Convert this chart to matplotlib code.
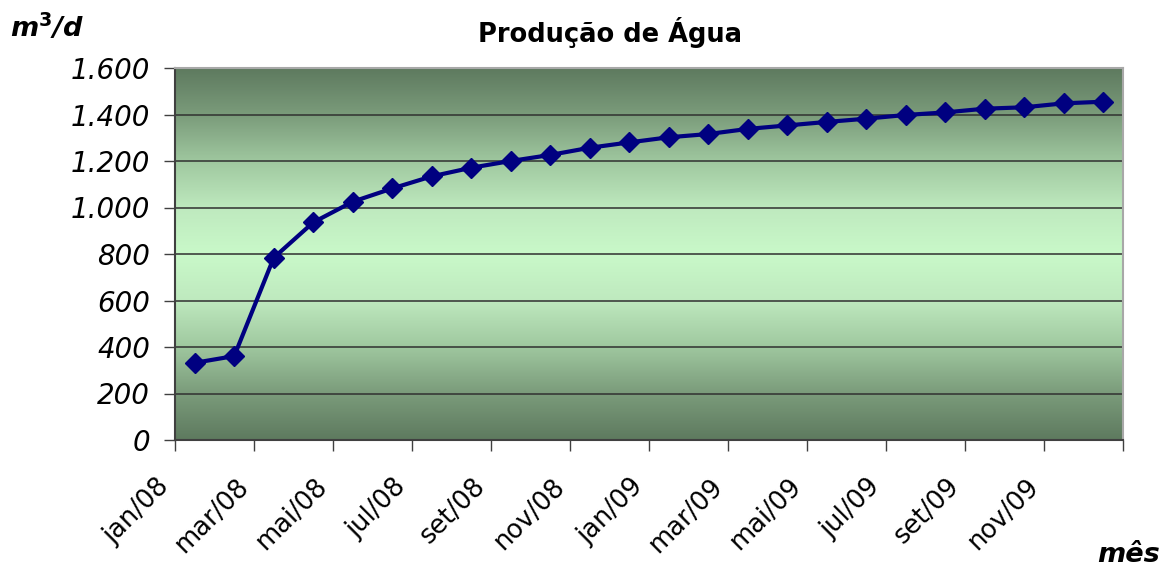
import numpy as np
import matplotlib
matplotlib.use("Agg")
import matplotlib.pyplot as plt
from matplotlib.colors import LinearSegmentedColormap

plt.rcParams['font.family'] = ['DejaVu Sans']

months = ["jan/08", "fev/08", "mar/08", "abr/08", "mai/08", "jun/08",
          "jul/08", "ago/08", "set/08", "out/08", "nov/08", "dez/08",
          "jan/09", "fev/09", "mar/09", "abr/09", "mai/09", "jun/09",
          "jul/09", "ago/09", "set/09", "out/09", "nov/09", "dez/09"]
values = [332, 361, 784, 936, 1025, 1082, 1134, 1171, 1200, 1226, 1257, 1280,
          1302, 1316, 1338, 1353, 1368, 1382, 1398, 1409, 1425, 1431, 1448, 1455]
ytick_vals = [0, 200, 400, 600, 800, 1000, 1200, 1400, 1600]
ytick_labels = ["0", "200", "400", "600", "800", "1.000", "1.200", "1.400", "1.600"]
title = "Produção de Água"

W, H = 1170, 571
fig = plt.figure(figsize=(W / 100, H / 100), dpi=100)
ax = fig.add_axes([175 / W, 1 - 440 / H, (1123 - 175) / W, (440 - 68) / H])

# gradient background (dark edges, light centre)
cmap = LinearSegmentedColormap.from_list(
    "g", [(0.0, "#5e7a5f"), (0.13, "#7c9d7c"), (0.26, "#a2cba2"),
          (0.38, "#bfeabf"), (0.5, "#c9f9c9"), (0.62, "#bfeabf"),
          (0.74, "#a2cba2"), (0.87, "#7c9d7c"), (1.0, "#5e7a5f")])
grad = np.linspace(0, 1, 256).reshape(-1, 1)
ax.imshow(grad, cmap=cmap, aspect='auto', extent=[0, 1, 0, 1],
          transform=ax.transAxes, zorder=0)

x = np.arange(len(values))
ax.plot(x, values, color="#000080", lw=3, marker='D', markersize=10.5,
        markerfacecolor="#000080", markeredgecolor="#000080", zorder=3,
        clip_on=False)

ax.set_xlim(-0.5, len(values) - 0.5)
ax.set_ylim(0, 1600)

ax.set_yticks(ytick_vals)
ax.set_yticklabels(ytick_labels, fontsize=20, style='italic')
for v in ytick_vals[1:-1]:
    ax.axhline(v, color="#303030", lw=1.1, zorder=1)

xt = np.arange(-0.5, len(values), 2)
ax.set_xticks(xt)
labels = [months[int(t + 0.5)] if int(t + 0.5) < len(months) else "" for t in xt]
ax.set_xticklabels(labels, rotation=45, ha='right', fontsize=18.5)

ax.tick_params(axis='y', direction='out', length=8, width=1, pad=10, color="#404040")
ax.tick_params(axis='x', direction='out', length=8, width=1, pad=16, color="#404040")

for s in ['left', 'bottom']:
    ax.spines[s].set_color("#404040")
    ax.spines[s].set_linewidth(1.5)
for s in ['top', 'right']:
    ax.spines[s].set_color("#a8a8a8")
    ax.spines[s].set_linewidth(1.5)

fig.text(610 / W, 1 - 32 / H, title, ha='center', va='center',
         fontsize=18.5, fontweight='bold')
fig.text(10 / W, 1 - 28 / H, r"m$^{\mathbf{3}}$/d", ha='left', va='center',
         fontsize=19.5, fontweight='bold', style='italic')
fig.text(1160 / W, 1 - 555 / H, "mês", ha='right', va='center',
         fontsize=19.5, fontweight='bold', style='italic')

fig.savefig("out.png", dpi=100)
